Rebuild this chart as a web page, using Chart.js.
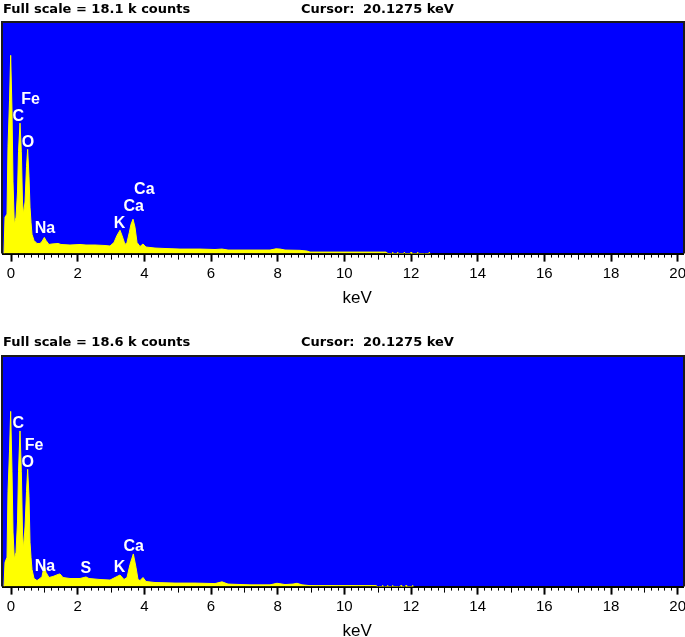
<!DOCTYPE html>
<html>
<head>
<meta charset="utf-8">
<script src="https://cdn.jsdelivr.net/npm/chart.js@4.4.1/dist/chart.umd.min.js"></script>
<style>
  html, body { margin: 0; padding: 0; background: #fff; overflow: hidden; }
  body { width: 685px; height: 637px; position: relative; }
  .hdr { position: absolute; font: bold 13px "DejaVu Sans"; line-height: 16px; color: #000; white-space: pre; z-index: 2; }
  canvas { position: absolute; left: 0; }
</style>
</head>
<body>
<div class="hdr" id="fs1" style="left:3px;top:1px"></div>
<div class="hdr" style="left:301px;top:1px">Cursor:</div>
<div class="hdr" id="cur1" style="left:363px;top:1px"></div>
<div class="hdr" id="fs2" style="left:3px;top:334px"></div>
<div class="hdr" style="left:301px;top:334px">Cursor:</div>
<div class="hdr" id="cur2" style="left:363px;top:334px"></div>
<canvas id="c1" width="692" height="310" style="top:0"></canvas>
<canvas id="c2" width="692" height="310" style="top:334px"></canvas>
<script>
// full scale of each spectrum (k counts) and cursor position (keV)
const fullScale = [18.1, 18.6]
const cursorKeV = 20.1275

// x axis range, labels every 2 keV
const axisMin = -0.24
const axisMax = 20.16

// spectrum 1 (top) - energy keV / counts
const topEnergy = [-0.21, -0.18, -0.12, -0.09, -0.045, -0.01, 0.03, 0.06, 0.10, 0.15, 0.195, 0.225, 0.27, 0.31, 0.345, 0.375, 0.42, 0.465, 0.50, 0.54, 0.57, 0.60, 0.63, 0.69, 0.78, 0.87, 0.93, 1.00, 1.05, 1.14, 1.23, 1.41, 1.50, 1.77, 2.07, 2.25, 2.52, 2.82, 2.97, 3.09, 3.18, 3.27, 3.33, 3.42, 3.48, 3.55, 3.60, 3.66, 3.72, 3.78, 3.87, 3.96, 4.05, 4.32, 4.62, 5.07, 5.67, 6.12, 6.33, 6.51, 7.17, 7.77, 7.95, 8.07, 8.22, 8.67, 8.88, 8.97, 10.17, 11.25, 11.31, 11.43, 11.45, 11.47, 11.58, 11.6, 11.62, 11.78, 11.8, 11.82, 11.98, 12.0, 12.02, 12.18, 12.2, 12.22, 12.53, 12.55, 12.57]
const topCounts = [0, 2860, 3100, 8420, 11990, 15560, 11200, 5640, 2300, 2860, 4840, 8020, 10240, 8020, 4050, 3100, 4050, 6830, 8180, 6030, 3650, 2460, 1510, 1030, 795, 795, 950, 1270, 1030, 715, 755, 795, 715, 675, 715, 675, 675, 635, 595, 875, 1430, 1830, 1430, 715, 875, 1670, 2300, 2700, 2065, 875, 555, 755, 515, 435, 400, 355, 355, 320, 355, 280, 280, 280, 375, 355, 280, 255, 200, 120, 120, 120, 0, 0, 110, 0, 0, 110, 0, 0, 110, 0, 0, 110, 0, 0, 110, 0, 0, 110, 0]

// spectrum 2 (bottom)
const botEnergy = [-0.21, -0.18, -0.12, -0.09, -0.045, -0.01, 0.03, 0.06, 0.10, 0.15, 0.195, 0.225, 0.27, 0.31, 0.345, 0.375, 0.42, 0.465, 0.50, 0.54, 0.57, 0.60, 0.63, 0.69, 0.78, 0.87, 0.93, 1.00, 1.05, 1.14, 1.26, 1.41, 1.47, 1.56, 1.77, 2.07, 2.25, 2.34, 2.67, 2.97, 3.12, 3.27, 3.39, 3.48, 3.57, 3.67, 3.75, 3.81, 3.87, 3.96, 4.05, 4.32, 4.92, 5.52, 6.12, 6.33, 6.51, 7.17, 7.77, 7.98, 8.22, 8.46, 8.58, 8.73, 8.97, 10.95, 11.0, 11.13, 11.15, 11.17, 11.28, 11.3, 11.32, 11.43, 11.45, 11.47, 11.68, 11.7, 11.72, 11.83, 11.85, 11.87, 12.03, 12.05, 12.07]
const botCounts = [0, 1965, 2375, 7700, 10975, 14190, 9340, 4420, 2235, 2785, 5240, 9340, 12610, 9340, 4420, 3030, 4830, 7700, 9500, 7290, 3600, 2375, 1390, 655, 490, 655, 820, 1720, 1150, 735, 820, 985, 1025, 735, 655, 655, 780, 655, 575, 530, 735, 940, 575, 735, 1800, 2645, 1555, 575, 490, 735, 410, 330, 285, 285, 245, 385, 205, 140, 140, 270, 165, 205, 270, 140, 80, 80, 0, 0, 100, 0, 0, 100, 0, 0, 100, 0, 0, 100, 0, 0, 100, 0, 0, 100, 0]

// element labels: text, energy, counts
const topLabels = ['Fe', 'C', 'O', 'Na', 'K', 'Ca', 'Ca']
const topLabelE = [0.585, 0.22, 0.51, 1.02, 3.255, 3.68, 4.0]
const topLabelC = [12100, 10720, 8730, 1945, 2380, 3690, 5025]

const botLabels = ['C', 'Fe', 'O', 'Na', 'S', 'K', 'Ca']
const botLabelE = [0.22, 0.695, 0.5, 1.02, 2.245, 3.255, 3.68]
const botLabelC = [13190, 11450, 10070, 1640, 1470, 1560, 3280]

document.getElementById('fs1').textContent = `Full scale = ${fullScale[0]} k counts`
document.getElementById('fs2').textContent = `Full scale = ${fullScale[1]} k counts`
document.getElementById('cur1').textContent = `${cursorKeV} keV`
document.getElementById('cur2').textContent = `${cursorKeV} keV`

// blue plot background, frame, minor ticks and peak labels
const spectrumDeco = {
  id: 'spectrumDeco',
  beforeDraw(chart) {
    const { ctx, chartArea: a } = chart
    ctx.save()
    ctx.fillStyle = '#0000ff'
    ctx.fillRect(a.left, a.top, a.width, a.height)
    ctx.restore()
  },
  afterDatasetsDraw(chart, args, opts) {
    const { ctx, scales: { x, y } } = chart
    ctx.save()
    ctx.fillStyle = '#ffffff'
    ctx.font = 'bold 16px "Liberation Sans"'
    ctx.textAlign = 'center'
    ctx.textBaseline = 'middle'
    opts.text.forEach((t, i) => {
      ctx.fillText(t, x.getPixelForValue(opts.energy[i]), y.getPixelForValue(opts.counts[i]))
    })
    ctx.restore()
  },
  afterDraw(chart) {
    const { ctx, chartArea: a, scales: { x } } = chart
    ctx.save()
    ctx.strokeStyle = '#000'
    for (let i = 1; i < 100; i++) {
      if (i % 10 === 0) continue
      const px = Math.round(x.getPixelForValue(i * 0.2)) + 0.5
      const len = i % 5 === 0 ? 6 : 4
      ctx.lineWidth = 1
      ctx.beginPath()
      ctx.moveTo(px, a.bottom)
      ctx.lineTo(px, a.bottom + len)
      ctx.stroke()
    }
    // frame around plot
    ctx.strokeStyle = '#1a1a1a'
    ctx.lineWidth = 2
    ctx.beginPath()
    ctx.moveTo(a.left - 1, a.bottom)
    ctx.lineTo(a.left - 1, a.top - 1)
    ctx.lineTo(a.right + 1, a.top - 1)
    ctx.lineTo(a.right + 1, a.bottom)
    ctx.stroke()
    ctx.restore()
  }
}

function makePanel(id, energy, counts, fsK, labels, labelE, labelC, padBottom) {
  const points = energy.map((e, i) => ({ x: e, y: counts[i] }))
  return new Chart(document.getElementById(id), {
    type: 'line',
    data: {
      datasets: [{
        data: points,
        borderColor: '#ffff00',
        backgroundColor: '#ffff00',
        borderWidth: 1,
        fill: 'origin',
        pointRadius: 0,
        tension: 0
      }]
    },
    options: {
      responsive: false,
      animation: false,
      events: [],
      layout: { padding: { left: 3, right: 9, top: 23, bottom: padBottom } },
      plugins: {
        legend: { display: false },
        tooltip: { enabled: false },
        spectrumDeco: { text: labels, energy: labelE, counts: labelC }
      },
      scales: {
        x: {
          type: 'linear',
          min: axisMin,
          max: axisMax,
          ticks: {
            stepSize: 2,
            includeBounds: false,
            autoSkip: false,
            maxRotation: 0,
            padding: 3,
            color: '#000',
            font: { family: 'Liberation Sans', size: 15 }
          },
          grid: { drawOnChartArea: false, tickLength: 8, tickWidth: 2, tickColor: '#000' },
          border: { display: true, color: '#000', width: 2 },
          title: {
            display: true,
            text: '      keV',
            color: '#000',
            font: { family: 'Liberation Sans', size: 17 },
            padding: { top: 3, bottom: 0 }
          }
        },
        y: { display: false, min: 0, max: fsK * 1000 }
      }
    },
    plugins: [spectrumDeco]
  })
}

makePanel('c1', topEnergy, topCounts, fullScale[0], topLabels, topLabelE, topLabelC, 1)
makePanel('c2', botEnergy, botCounts, fullScale[1], botLabels, botLabelE, botLabelC, 2)
</script>
</body>
</html>
